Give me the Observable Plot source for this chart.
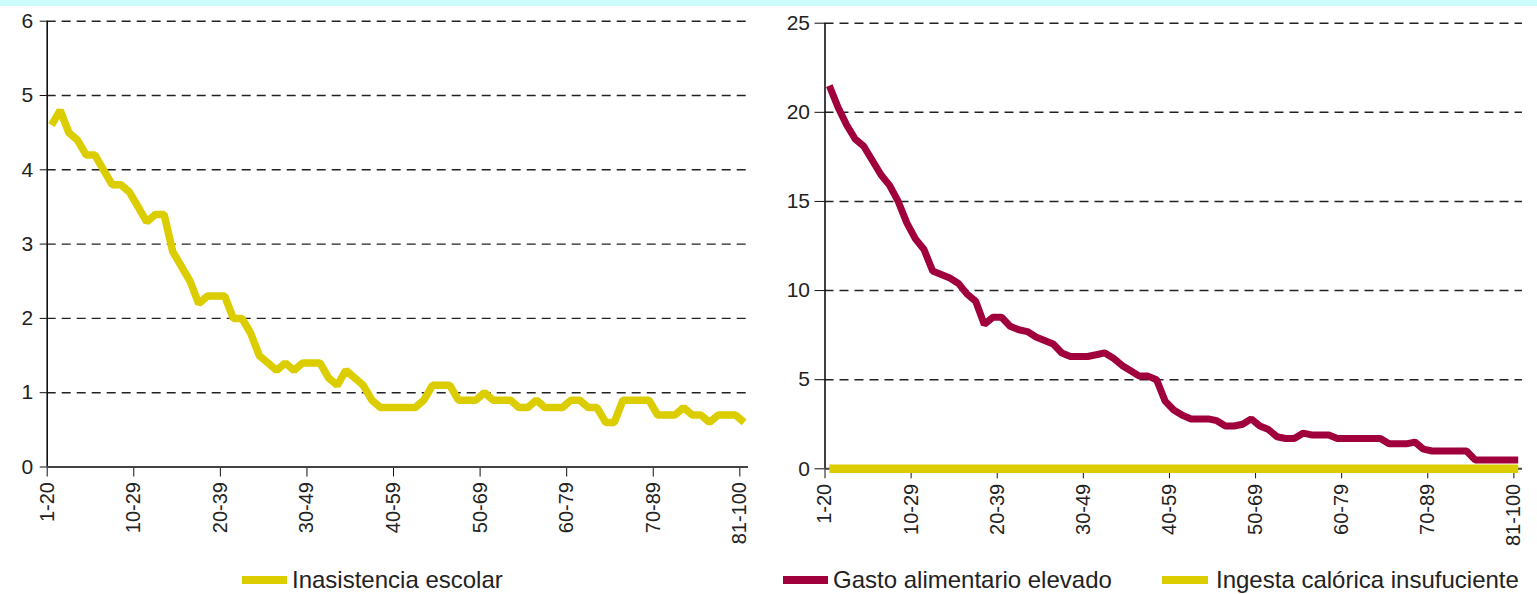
<!DOCTYPE html>
<html>
<head>
<meta charset="utf-8">
<script src="https://cdn.jsdelivr.net/npm/d3@7"></script>
<script src="https://cdn.jsdelivr.net/npm/@observablehq/plot@0.6"></script>
<style>
  html, body { margin: 0; padding: 0; background: #fff; }
  body { width: 1537px; height: 594px; position: relative; overflow: hidden;
         font-family: "Liberation Sans", Arial, sans-serif; color: #222; }
  #band { position: absolute; left: 0; top: 0; width: 1537px; height: 6px; background: #ccfcfc; }
  #left { position: absolute; left: 0; top: 0; }
  #right { position: absolute; left: 760px; top: 0; }
  .leg { position: absolute; top: 566px; display: flex; align-items: center; font-size: 24px; white-space: nowrap; color: #222; }
  .sw { width: 45px; height: 8px; margin-right: 5px; }
</style>
</head>
<body>
<div id="band"></div>
<div id="left"></div>
<div id="right"></div>
<div class="leg" style="left:242px"><div class="sw" style="background:#dbcd00"></div><span>Inasistencia escolar</span></div>
<div class="leg" style="left:783px"><div class="sw" style="background:#a0003c"></div><span>Gasto alimentario elevado</span></div>
<div class="leg" style="left:1162px"><div class="sw" style="background:#dbcd00;width:46px;margin-right:8px"></div><span>Ingesta calórica insufuciente</span></div>
<script>
// Tick labels of the x axis (rolling windows), shown every 10 windows
const tickLabels = ["1-20", "10-29", "20-39", "30-49", "40-59", "50-69", "60-79", "70-89", "81-100"];

// Left panel: Inasistencia escolar (81 windows)
const inasistenciaEscolar = [
  4.6, 4.8, 4.5, 4.4, 4.2, 4.2, 4.0, 3.8, 3.8, 3.7,
  3.5, 3.3, 3.4, 3.4, 2.9, 2.7, 2.5, 2.2, 2.3, 2.3,
  2.3, 2.0, 2.0, 1.8, 1.5, 1.4, 1.3, 1.4, 1.3, 1.4,
  1.4, 1.4, 1.2, 1.1, 1.3, 1.2, 1.1, 0.9, 0.8, 0.8,
  0.8, 0.8, 0.8, 0.9, 1.1, 1.1, 1.1, 0.9, 0.9, 0.9,
  1.0, 0.9, 0.9, 0.9, 0.8, 0.8, 0.9, 0.8, 0.8, 0.8,
  0.9, 0.9, 0.8, 0.8, 0.6, 0.6, 0.9, 0.9, 0.9, 0.9,
  0.7, 0.7, 0.7, 0.8, 0.7, 0.7, 0.6, 0.7, 0.7, 0.7,
  0.6
];

// Right panel: Gasto alimentario elevado
const gastoAlimentario = [
  21.5, 20.3, 19.3, 18.5, 18.1, 17.3, 16.5, 15.9, 15.0, 13.8,
  12.9, 12.3, 11.1, 10.9, 10.7, 10.4, 9.8, 9.4, 8.1, 8.5,
  8.5, 8.0, 7.8, 7.7, 7.4, 7.2, 7.0, 6.5, 6.3, 6.3,
  6.3, 6.4, 6.5, 6.2, 5.8, 5.5, 5.2, 5.2, 5.0, 3.8,
  3.3, 3.0, 2.8, 2.8, 2.8, 2.7, 2.4, 2.4, 2.5, 2.8,
  2.4, 2.2, 1.8, 1.7, 1.7, 2.0, 1.9, 1.9, 1.9, 1.7,
  1.7, 1.7, 1.7, 1.7, 1.7, 1.4, 1.4, 1.4, 1.5, 1.1,
  1.0, 1.0, 1.0, 1.0, 1.0, 0.5, 0.5, 0.5, 0.5, 0.5,
  0.5
];

// Right panel: Ingesta calórica insuficiente
const ingestaCalorica = [
  0, 0, 0, 0, 0, 0, 0, 0, 0, 0,
  0, 0, 0, 0, 0, 0, 0, 0, 0, 0,
  0, 0, 0, 0, 0, 0, 0, 0, 0, 0,
  0, 0, 0, 0, 0, 0, 0, 0, 0, 0,
  0, 0, 0, 0, 0, 0, 0, 0, 0, 0,
  0, 0, 0, 0, 0, 0, 0, 0, 0, 0,
  0, 0, 0, 0, 0, 0, 0, 0, 0, 0,
  0, 0, 0, 0, 0, 0, 0, 0, 0, 0,
  0
];

const leftTicks = [0, 1, 2, 3, 4, 5, 6];
const rightTicks = [0, 5, 10, 15, 20, 25];

const YELLOW = "#dbcd00";
const MAROON = "#a0003c";

// Each window occupies a unit band; points drawn at band centres, ticks on band edges
const toRows = arr => arr.map((v, i) => ({x: i + 0.5, y: v}));
const xTickPos = tickLabels.map((_, k) => k * 10);
const xFormat = d => tickLabels[xTickPos.indexOf(d)];

function panel({width, height, mt, mb, ml, mr, yDomain, yTicks, ySize, yPad, lines}) {
  return Plot.plot({
    width, height,
    marginTop: mt, marginBottom: mb, marginLeft: ml, marginRight: mr,
    x: {domain: [0, tickLabels.length * 10 - 9]},
    y: {domain: yDomain},
    style: {fontFamily: "'Liberation Sans', Arial, sans-serif", fontSize: "20px", color: "#222", background: "transparent", overflow: "visible"},
    marks: [
      Plot.ruleY(yTicks.filter(d => d > 0), {stroke: "#222", strokeWidth: 1.4, strokeDasharray: "9,6"}),
      Plot.axisY({ticks: yTicks, tickFormat: d => String(d), tickSize: ySize, tickPadding: yPad, label: null, fontSize: 21, stroke: "#111"}),
      Plot.axisX({ticks: xTickPos, tickFormat: xFormat, tickRotate: -90, tickSize: 10, tickPadding: 5, label: null, fontSize: 20, stroke: "#111"}),
      Plot.ruleX([0], {stroke: "#111", strokeWidth: 1.6}),
      Plot.ruleY([0], {stroke: "#444", strokeWidth: 2}),
      ...lines.map(l => Plot.line(toRows(l.data), {x: "x", y: "y", stroke: l.color, strokeWidth: l.w, strokeLinejoin: "miter", strokeLinecap: "butt"}))
    ]
  });
}

document.getElementById("left").append(panel({
  width: 760, height: 560, mt: 20.7, mb: 93.5, ml: 46.7, mr: 12,
  yDomain: [0, 6], yTicks: leftTicks, ySize: 7, yPad: 7,
  lines: [{data: inasistenciaEscolar, color: YELLOW, w: 7.5}]
}));

document.getElementById("right").append(panel({
  width: 777, height: 560, mt: 22.7, mb: 91.7, ml: 64.5, mr: 15,
  yDomain: [0, 25], yTicks: rightTicks, ySize: 10, yPad: 5,
  lines: [
    {data: gastoAlimentario, color: MAROON, w: 7},
    {data: ingestaCalorica, color: YELLOW, w: 8.5}
  ]
}));
</script>
</body>
</html>
